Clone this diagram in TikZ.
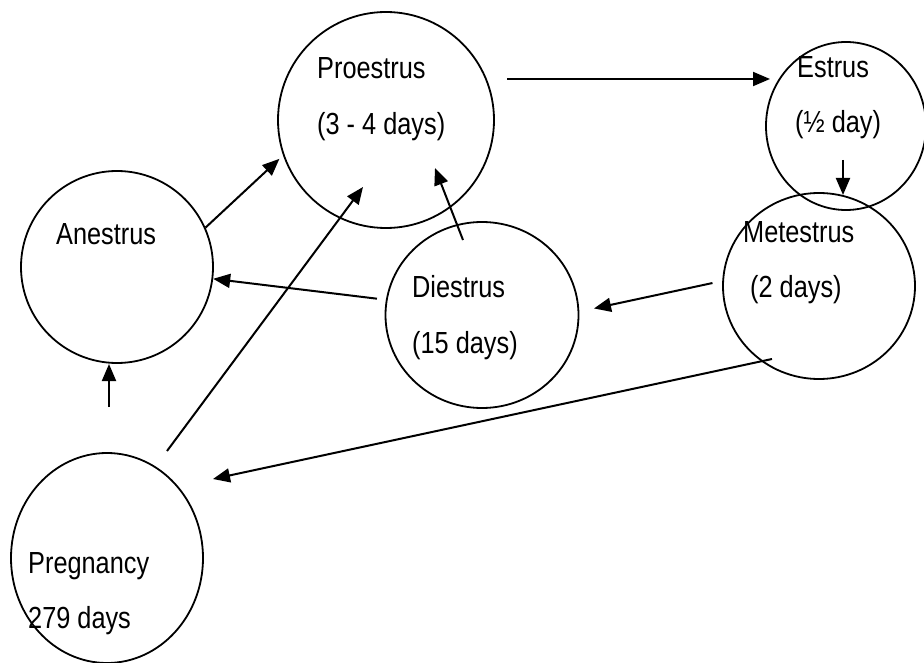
\documentclass[tikz,border=0pt]{standalone}
\usepackage{fontspec}
\setmainfont{Liberation Sans}[FakeStretch=0.83]
\usetikzlibrary{shapes.geometric,arrows.meta}
\begin{document}
\begin{tikzpicture}[x=1pt,y=-1pt,
  state/.style={ellipse, draw, line width=1.8pt, inner sep=0pt},
  lbl/.style={anchor=base west, inner sep=0pt, font=\fontsize{30.5}{36}\selectfont},
  arr/.style={line width=2pt, -{Triangle[length=17pt,width=14pt]}}]
\useasboundingbox (0,0) rectangle (924,663);
\fill[white] (0,0) rectangle (924,663);
\clip (0,0) rectangle (924,663);
% states
\node[state, minimum width=216pt, minimum height=216pt] (pro) at (386,120) {};
\node[state, minimum width=160pt, minimum height=168pt] (est) at (846,126) {};
\node[state, minimum width=192pt, minimum height=186pt] (met) at (819,286) {};
\node[state, minimum width=192pt, minimum height=192pt] (anes) at (117,267) {};
\node[state, minimum width=193pt, minimum height=186pt] (die) at (482,315) {};
\node[state, minimum width=192pt, minimum height=210pt] (preg) at (107,558) {};
% labels
\node[lbl] (proT) at (317,79) {Proestrus};
\node[lbl] (proD) at (317,135) {(3 - 4 days)};
\node[lbl] (estT) at (797,78) {Estrus};
\node[lbl] (estD) at (795,133) {(½ day)};
\node[lbl] (metT) at (743,243) {Metestrus};
\node[lbl] (metD) at (750,298) {(2 days)};
\node[lbl] (anesT) at (56,244) {Anestrus};
\node[lbl] (dieT) at (412,298) {Diestrus};
\node[lbl] (dieD) at (412,353) {(15 days)};
\node[lbl] (pregT) at (28,573) {Pregnancy};
\node[lbl] (pregD) at (28,628) {279 days};
% free connector ends
\coordinate (c2s) at (167,451); \coordinate (c2e) at (363,187);
\coordinate (c4s) at (772,359); \coordinate (c4e) at (213,479);
\coordinate (c6s) at (463,240); \coordinate (c6e) at (435,168);
\coordinate (c7s) at (507,79);  \coordinate (c7e) at (770,79);
\coordinate (c8s) at (843,160); \coordinate (c8e) at (843,195);
\coordinate (c9s) at (109,407); \coordinate (c9e) at (109,364);
% connectors
\draw[arr, shorten >=5pt] (anes.24) -- (pro.199);
\draw[arr] (c2s) -- (c2e);
\draw[arr, shorten <=9pt] (die.171) -- (anes.353);
\draw[arr] (c4s) -- (c4e);
\draw[arr, shorten <=10pt, shorten >=15pt] (met.177) -- (die.2);
\draw[arr] (c6s) -- (c6e);
\draw[arr] (c7s) -- (c7e);
\draw[arr] (c8s) -- (c8e);
\draw[arr] (c9s) -- (c9e);
\end{tikzpicture}
\end{document}
